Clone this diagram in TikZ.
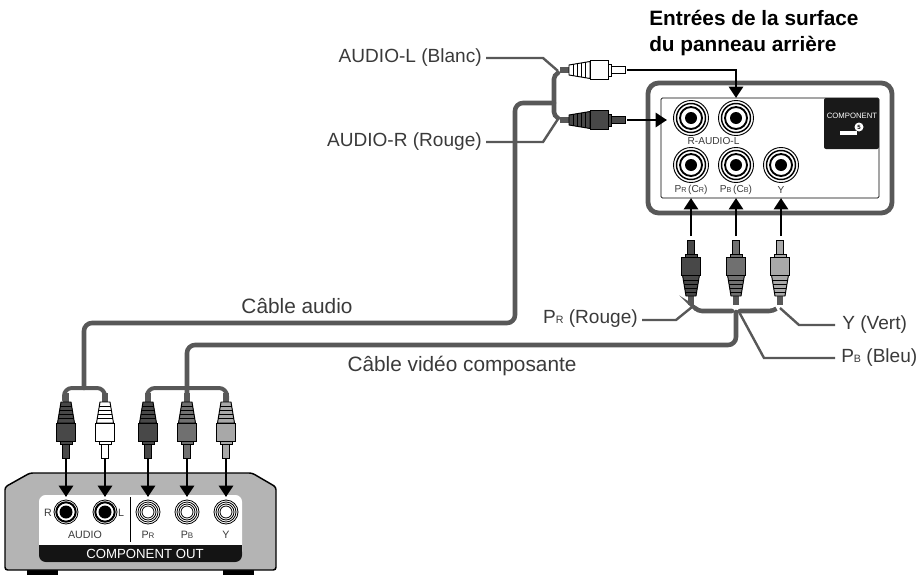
\documentclass[tikz,border=0pt]{standalone}
\usepackage{fontspec}
\setmainfont{Liberation Sans}
\usetikzlibrary{arrows.meta}
\definecolor{cab}{HTML}{585858}
\definecolor{plugd}{HTML}{484848}
\definecolor{plugm}{HTML}{707070}
\definecolor{plugl}{HTML}{A8A8A8}
\definecolor{txt}{HTML}{3A3A3A}
\definecolor{dev}{HTML}{B4B4B4}
\tikzset{
 x=0.75pt,y=-0.75pt,
 cable/.style={draw=cab,line width=3.4pt,line cap=round,rounded corners=6pt},
 leader/.style={draw=cab,line width=1.8pt},
 arrowline/.style={draw=black,line width=2pt,-{Triangle[length=8.5pt,width=10.5pt]}},
 lab/.style={font=\fontsize{14.3}{16}\selectfont,text=txt,inner sep=0pt},
 biglab/.style={font=\fontsize{15.6}{18}\selectfont,text=txt,inner sep=0pt},
 panellab/.style={font=\fontsize{7.6}{9}\selectfont,text=txt,inner sep=0pt},
 devlab/.style={font=\fontsize{8}{9}\selectfont,text=txt,inner sep=0pt},
}
\newcommand{\smc}[1]{{\fontsize{8}{9}\selectfont #1}}
\newcommand{\tsm}[1]{{\fontsize{5.4}{6}\selectfont #1}}
\newcommand{\dsm}[1]{{\fontsize{6}{7}\selectfont #1}}
% plug: position, rotation, colour
\newcommand{\plug}[3]{%
\begin{scope}[shift={(#1)},rotate=#2,draw=black,line width=.7pt]
 \fill[cab] (-9,-2.7) rectangle (0,2.7);
 \filldraw[fill=#3] (0,-5) -- (21,-8.5) -- (21,8.5) -- (0,5) -- cycle;
 \foreach \q/\w in {4/5.6,8/6.3,12/7,16/7.7}{\draw[line width=.7pt] (\q,-\w) -- (\q,\w);}
 \filldraw[fill=#3] (21,-9.5) rectangle (39,9.5);
 \filldraw[fill=#3] (39,-6) rectangle (42,6);
 \filldraw[fill=#3] (42,-3.5) rectangle (56,3.5);
\end{scope}}
% jack with black centre
\newcommand{\jackA}[2][1]{%
\begin{scope}[shift={(#2)},scale=#1,line width=.7pt]
 \draw[fill=white] (0,0) circle (17.5);
 \draw[fill=white,line width=1.1pt] (0,0) circle (14.5);
 \draw[line width=1.4pt] (0,0) circle (11);
 \fill[black] (0,0) circle (6);
\end{scope}}
\newcommand{\jackD}[1]{%
\begin{scope}[shift={(#1)}]
 \draw[fill=white,line width=.6pt] (0,0) circle (12);
 \draw[line width=1.5pt] (0,0) circle (9.7);
 \fill[black] (0,0) circle (6.5);
\end{scope}}
\newcommand{\jackB}[1]{%
\begin{scope}[shift={(#1)},line width=.6pt]
 \draw[fill=white] (0,0) circle (12);
 \draw (0,0) circle (10);
 \draw (0,0) circle (8);
 \draw (0,0) circle (6);
\end{scope}}
\begin{document}
\begin{tikzpicture}
\useasboundingbox (0,0) rectangle (918,575);
% named points
\coordinate (jR) at (691,118); \coordinate (jL) at (736,118);
\coordinate (jPr) at (691,165); \coordinate (jPb) at (736,165); \coordinate (jY) at (781,165);
\coordinate (inL) at (736,98); \coordinate (inR) at (667,120);
\coordinate (plL) at (569,70); \coordinate (plR) at (569,120);
\coordinate (tipL) at (627,70); \coordinate (tipR) at (627,120);
\coordinate (dR) at (66,402); \coordinate (dL) at (105,402);
\coordinate (dPr) at (148,402); \coordinate (dPb) at (187,402); \coordinate (dY) at (226,402);

% rear panel
\draw[draw=cab,line width=3.6pt,rounded corners=8pt,fill=white] (648,83) rectangle (892,213);
\draw[black,line width=.6pt,rounded corners=1pt] (661,98) rectangle (879,198);
\fill[black!90,rounded corners=1.5pt] (824,98) rectangle (879,149);
\node[inner sep=0pt,text=white,font=\fontsize{5.8}{7}\selectfont] (comp) at (852,116) {COMPONENT};
\fill[white] (840,131) rectangle (857,135);
\fill[white] (859,127) circle (4.5);
\node[inner sep=0pt,font=\fontsize{4.5}{5}\bfseries\selectfont] (five) at (859,127) {5};
\jackA{jR}\jackA{jL}\jackA{jPr}\jackA{jPb}\jackA{jY}
\node[panellab] (raudiol) at (713.5,141) {R-AUDIO-L};
\node[panellab] (lpr) at (691,190) {P\tsm{R}\,(C\tsm{R})};
\node[panellab] (lpb) at (736,190) {P\tsm{B}\,(C\tsm{B})};
\node[panellab] (ly) at (781,190) {Y};

% device
\fill[black] (27,566) rectangle (58,575);
\fill[black] (223,566) rectangle (254,575);
\draw[black,line width=1.1pt,fill=dev,rounded corners=2pt] (30,473) -- (252,473) -- (276,487) -- (276,570) -- (5,570) -- (5,487) -- cycle;
\fill[white,rounded corners=5pt] (39,495) rectangle (242,562);
\fill[black!92,rounded corners=5pt] (39,545) rectangle (242,562);
\fill[black!92] (39,545) rectangle (242,552);
\node[inner sep=0pt,text=white,font=\fontsize{9.9}{11}\selectfont] (compout) at (145,554) {COMPONENT OUT};
\draw[black,line width=.7pt] (130,497) -- (130,542);
\jackD{66,512}\jackD{105,512}
\jackB{148,512}\jackB{187,512}\jackB{226,512}
\node[devlab] (rr) at (48,513) {R};
\node[devlab] (ll) at (121,513) {L};
\node[devlab] (audio) at (85,535) {AUDIO};
\node[devlab] (pr) at (148,535) {P\dsm{R}};
\node[devlab] (pb) at (187,535) {P\dsm{B}};
\node[devlab] (yy) at (226,535) {Y};

% labels
\node[lab,anchor=east] (aL) at (482,58) {AUDIO-L (Blanc)};
\node[lab,anchor=east] (aR) at (482,142) {AUDIO-R (Rouge)};
\node[lab,anchor=east] (lPr) at (638,319) {P\smc{R} (Rouge)};
\node[lab,anchor=west] (lY) at (842,325) {Y (Vert)};
\node[lab,anchor=west] (lPb) at (841,358) {P\smc{B} (Bleu)};
\node[biglab] (cAudio) at (297,306) {Câble audio};
\node[biglab] (cVideo) at (462,366) {Câble vidéo composante};
\node[inner sep=0pt,align=left,anchor=west,font=\fontsize{15.6}{18.8}\bfseries\selectfont,text=black] (title) at (649,33) {Entrées de la surface\\du panneau arrière};
% leaders
\coordinate (jaL) at (558,71); \coordinate (jaR) at (558,119);
\draw[leader] (aL.east)+(4,0) -- (543,58) -- (jaL);
\draw[leader] (aR.east)+(4,0) -- (543,142) -- (jaR);
\coordinate (jPrPt) at (692,307); \coordinate (jYPt) at (780,308); \coordinate (jPbPt) at (738,310);
\draw[leader] (lPr.east)+(4,1) -- (676,320) -- (jPrPt);
\draw[leader] (lY.west)+(-7,0) -- (799,325) -- (jYPt);
\draw[leader] (lPb.west)+(-6,0) -- (764,358) -- (jPbPt);

% cables
\draw[cable,rounded corners=3pt] (558,73) -- (554,75) -- (554,116) -- (558,118);
\draw[cable] (554,103) -- (515,103) -- (515,323) -- (84,323) -- (84,388);
\draw[cable,line width=3pt] (64,400) -- (64,388) -- (105,388) -- (105,400);
\draw[cable,rounded corners=3pt] (696,309) -- (698,311) -- (732,311);
\draw[cable,rounded corners=3pt] (740,311) -- (773,311) -- (776,309);
\draw[cable] (736,312) -- (736,345) -- (187,345) -- (187,398);
\draw[cable,line width=3pt] (147,400) -- (147,388) -- (227,388) -- (227,400);

% plugs
\plug{plL}{0}{white}
\plug{plR}{0}{plugd}
\plug{691,296}{90}{plugd}
\plug{736,296}{90}{plugm}
\plug{780,296}{90}{plugl}
\plug{dR}{-90}{plugd}
\plug{dL}{-90}{white}
\plug{dPr}{-90}{plugd}
\plug{dPb}{-90}{plugm}
\plug{dY}{-90}{plugl}

% arrows
\draw[arrowline] (tipL) -| (inL);
\draw[arrowline] (tipR) -- (inR);
\draw[arrowline] (691,236) -- (691,198);
\draw[arrowline] (736,236) -- (736,198);
\draw[arrowline] (781,236) -- (781,198);
\foreach \x in {66,105,148,187,226}{\draw[arrowline] (\x,459) -- (\x,497);}
\end{tikzpicture}
\end{document}
